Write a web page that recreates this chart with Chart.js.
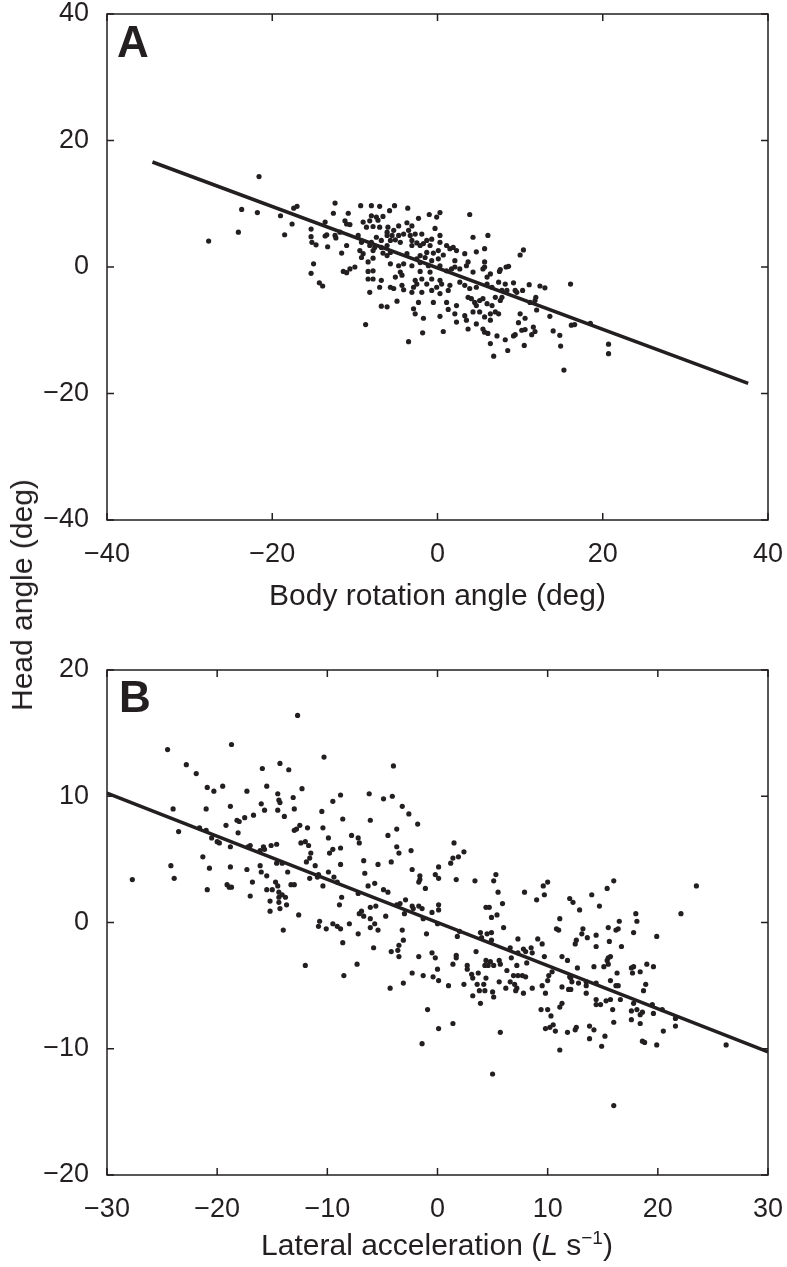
<!DOCTYPE html>
<html>
<head>
<meta charset="utf-8">
<script src="https://cdn.jsdelivr.net/npm/chart.js@4.4.1/dist/chart.umd.min.js"></script>
<style>
  body { margin: 0; background: #fff; }
  #wrap { position: relative; width: 787px; height: 1267px; font-family: "Liberation Sans", Arial, sans-serif; color: #231f20; }
  canvas { position: absolute; left: 0; }
  #cA { top: 0; }
  #cB { top: 620px; }
  .ytitle { position: absolute; left: 22px; top: 595px; font-size: 30px; white-space: nowrap;
            transform: translate(-50%, -50%) rotate(-90deg); }
  .xtitleB { position: absolute; left: 437px; top: 1245px; font-size: 30px; white-space: nowrap;
             transform: translate(-50%, -50%); }
  .xtitleB sup { font-size: 19px; vertical-align: 11px; line-height: 0; }
</style>
</head>
<body>
<div id="wrap">
  <canvas id="cA" width="787" height="620"></canvas>
  <canvas id="cB" width="787" height="647"></canvas>
  <div class="ytitle">Head angle (deg)</div>
  <div class="xtitleB">Lateral acceleration (<i>L</i> s<sup>−1</sup>)</div>
</div>
<script>
// ---- panel A: body rotation vs head angle ----
const aXTicks = [-40, -20, 0, 20, 40];
const aYTicks = [-40, -20, 0, 20, 40];
const aFitX = [-34.5, 37.6];
const aFitY = [16.6, -18.4];
const aX = [
  -21.6, -23.7, -21.8, -24.1, -27.7, -19.0, -17.4, -17.0, -17.6, -18.5, -15.3, -15.3, -15.2, -14.7, -15.0, -15.3, -14.3, -13.9,
  -13.6, -13.6, -13.4, -13.3, -12.4, -12.6, -12.4, -12.3, -11.6, -11.4, -11.2, -11.8,
  -9.3, -8.0, -7.0, -5.2, -3.6, -5.8, -10.8, -8.0, -7.4, -6.6, -1.0, -0.1, 0.3, 3.9, -2.3, -9.0, -8.2, -7.2,
  -11.0, -10.6, -8.6, -7.8, -7.0, -6.0, -4.7, -3.7, -3.1, -0.3, -6.1, -5.3, -3.5, -1.9, 0.3, -6.1, -5.5, -4.7, -4.1, -3.3, -2.7,
  -9.6, -9.2, -8.0, -7.4, -6.8, -5.7, -5.1, -4.5, -3.1, -2.5, -1.3, -0.7, 0.3, 1.1, 1.9, 4.3, 6.1, -11.0, -8.2, -7.6, -6.8, -6.1, -3.1, -2.1, -1.7, -0.9,
  -9.4, -9.0, -7.8, -6.6, -5.7, -3.7, -2.1, -1.3, -0.5, 0.1, 0.7, 1.5, 2.3, 3.3, 4.7, 5.7, -9.2, -7.8, -6.1, -2.5, -1.5, -0.7, 0.1, 2.1, 3.7,
  -10.6, -10.0, -8.4, -5.7, -4.7, -4.1, -3.1, -2.1, -1.1, 0.3, 1.1, 1.7, 2.1, 2.7, 3.5, 4.3, 5.5, -11.0, -8.4, -7.8, -4.5, -2.1, -0.9,
  -8.4, -7.8, -6.8, -5.1, -4.3, -2.7, -1.9, -0.7, 0.3, -5.7, -5.3, -4.3, -4.1, -2.9, -2.5, -1.3, -0.1, 0.5, 1.5, 2.7, 3.3, 3.9, 4.7, 6.0, -7.0, -8.2,
  -3.1, -1.9, -0.7, 0.3, 1.3, 3.7, 4.1, 4.5, 5.1, 5.5, -4.9, -6.8, -6.1, -2.3, -0.5, 1.1, 2.3, 4.7, 6.0,
  -2.9, -2.7, -1.7, 0.3, 1.3, 2.1, 3.3, 4.3, 5.1, 5.7, 3.5, 2.3, 4.7, 3.7, 5.5,
  -8.7, -1.8, 0.7, -3.5, 6.1, 6.4,
  5.7, 5.7, 6.4, 6.0, 10.4, 10.0, 7.5, 7.6, 8.3, 8.6, 7.4, 8.2, 9.2, 6.6, 7.8, 8.4, 9.4, 9.6, 10.3, 11.1, 12.4, 13.0, 16.1,
  7.0, 7.6, 7.8, 11.2, 11.8, 11.9, 12.0, 6.6, 7.0, 7.4, 6.4, 6.4, 10.0, 10.6, 9.8, 13.6, 10.2, 10.6, 11.6, 11.8, 11.4, 14.0, 14.8,
  16.2, 16.6, 18.5, 5.7, 7.2, 8.2, 9.2, 9.4, 8.5, 6.8, 10.5, 14.9, 20.7, 20.7, 15.3
];
const aY = [
  14.3, 9.1, 8.6, 5.5, 4.1, 8.1, 9.3, 9.6, 6.8, 5.1, 6.0, 4.8, 3.9, 3.5, 0.5, -1.0, -2.5, -3.0,
  7.1, 4.9, 5.1, 3.2, 10.1, 8.5, 5.0, 4.6, 2.2, -0.7, 7.3, 5.5,
  9.7, 9.7, 9.6, 9.7, 9.3, 8.9, 8.5, 8.1, 7.9, 8.0, 8.3, 7.9, 8.6, 8.3, 7.7, 7.1, 7.3, 7.4,
  6.8, 6.7, 6.3, 6.4, 6.3, 6.3, 6.5, 7.0, 6.5, 6.1, 5.5, 5.8, 5.8, 5.2, 5.0, 5.0, 5.0, 5.0, 5.2, 5.0, 5.2,
  5.0, 3.9, 3.9, 4.7, 4.2, 4.2, 4.3, 3.9, 4.2, 3.8, 4.2, 4.4, 3.9, 3.4, 3.1, 4.7, 5.0, 3.4, 3.4, 3.1, 3.1, 3.4, 3.4, 3.4, 3.7, 3.4,
  2.6, 2.1, 2.6, 2.2, 2.3, 2.1, 1.8, 2.3, 2.2, 2.6, 1.9, 2.9, 2.6, 2.1, 2.4, 2.9, 1.5, 1.4, 1.8, 1.3, 1.5, 1.0, 1.3, 1.0, 0.8,
  -0.3, 0.0, 0.8, 0.5, 0.2, 0.5, 0.2, 0.7, 0.2, 0.2, -0.6, -0.3, 0.0, -0.3, 0.2, -0.8, -0.3, -0.9, -0.7, -0.6, -0.8, -0.7, -0.8,
  -1.9, -1.9, -2.1, -1.6, -1.3, -2.1, -1.9, -1.9, -2.1, -3.2, -3.4, -2.9, -3.6, -3.2, -2.7, -2.7, -3.2, -2.7, -2.9, -2.4, -2.9, -3.4, -3.2, -2.7, -3.2, -4.0,
  -4.0, -4.0, -3.7, -4.2, -3.7, -4.8, -5.0, -5.6, -5.3, -5.0, -5.4, -6.2, -6.3, -5.6, -5.6, -5.6, -6.1, -6.1, -5.8,
  -6.6, -7.4, -8.1, -7.8, -6.7, -7.4, -7.7, -7.1, -7.1, -7.9, -8.4, -8.7, -9.0, -9.8, -9.8,
  -9.1, -10.4, -10.2, -11.8, -10.5, -12.1,
  0.8, 0.0, -1.1, -1.6, 2.7, 1.9, -0.7, -0.4, 0.0, 0.1, -2.4, -2.7, -2.5, -3.2, -3.7, -3.7, -3.7, -4.0, -3.7, -2.8, -3.0, -3.3, -2.7,
  -4.8, -5.3, -4.8, -5.6, -5.3, -4.8, -6.8, -6.1, -7.1, -7.4, -7.4, -8.4, -7.4, -8.1, -8.8, -7.8, -10.0, -9.9, -9.5, -10.2, -10.7, -10.1, -10.8,
  -9.2, -9.1, -8.9, -10.3, -10.9, -11.5, -10.9, -10.7, -13.2, -14.1, -12.4, -12.5, -12.2, -13.7, -16.3
];

// ---- panel B: lateral acceleration vs head angle ----
const bXTicks = [-30, -20, -10, 0, 10, 20, 30];
const bYTicks = [-20, -10, 0, 10, 20];
const bFitX = [-30, 30];
const bFitY = [10.25, -10.25];
const bX = [
  -24.5, -18.7, -22.8, -21.9, -20.9, -20.3, -19.5, -17.3, -15.9, -15.5, -24.0, -21.0, -18.8, -16.0, -15.7, -18.2, -18.0, -17.5, -16.7, -19.2,
  -23.5, -21.6, -21.0, -18.1, -20.5, -20.0, -19.8, -18.8, -17.2, -17.0, -16.1, -15.8, -15.7, -21.3, -24.2, -20.7, -18.8, -17.3, -16.1, -16.0,
  -15.5, -27.7, -23.9, -16.8, -20.9, -19.1, -18.9, -18.7, -17.0, -15.5,
  -12.7, -10.3, -14.3, -13.5, -4.0, -12.3, -14.5, -13.1, -14.4, -14.3, -8.8, -9.5, -6.2, -4.9, -4.1, -3.2, -2.6, -14.5, -13.0, -13.9,
  -10.5, -8.6, -6.1, -12.5, -12.8, -13.0, -11.8, -10.4, -3.7, -9.9, -7.8, -7.2, -7.1, -4.5, -15.1, -14.6, -12.4, -12.0, -11.7, -9.8,
  -9.5, -8.8, -3.7, -3.5, -2.4, -11.5, -11.6, -11.9, -14.6, -14.1, -11.1, -8.8, -6.7, -5.4, -4.2, -2.3, -13.6, -9.9, -10.8, -10.9,
  -11.6, -9.4, -9.1, -6.6, -10.4, -13.3, -13.0, -14.7, -14.5, -15.0, -6.3, -5.7, -4.9, -4.5, -2.9, -8.7, -14.4, -14.1, -7.2,
  -14.4, -13.8, -14.4, -15.2, -14.3, -13.7, -15.2, -12.6, -14.0, -8.9, -10.7, -10.8, -10.1, -9.5, -9.1, -8.8, -8.0, -6.9, -6.7, -7.1,
  -6.1, -5.6, -6.1, -5.7, -6.1, -5.4, -4.7, -3.7, -3.4, -2.3, -3.0, -7.2, -3.2, -3.1, -3.5, -3.6, -4.2, -3.5, -8.6, -5.8, -12.0, -7.3,
  -8.5, -2.3, -3.1, -4.3,
  -1.8, 1.5, 1.4, 1.9, 2.4, 1.2, 0.1, -1.6, -1.6, -1.7, -0.2, 0.1, -1.1, 1.7, 3.4, 5.3, 5.1, 5.5, 7.9, 10.0, 9.6, 9.7, 9.0,
  -2.2, -1.7, -1.4, -1.3, -0.5, 0.1, 0.1, 0.0, -1.0, 4.4, 4.7, 4.9, 5.4, 5.9, 6.0, 2.0, 1.8, 3.9, 4.0, 4.5, 4.9, 4.9, 7.3, 6.6,
  7.3, 7.8, 8.0, 8.5, 8.6, 9.1, 9.5, 9.7, -1.7, -0.5, -0.2, 1.7, 1.7, 3.5, 1.4, 2.7, 2.7, 4.4, 4.8, 5.1, 4.6, 4.3, 5.6, 5.7, 6.7,
  7.2, 8.1, 0.0, -1.3, -0.4, 0.1, 3.1, 3.2, 3.7, 4.4, 6.3, 6.9, 7.3, 7.7, 8.0, 6.6, 7.0, 7.2, 5.6, 1.0, 2.4, 3.6, 4.2, 6.2, 7.1,
  7.8, 8.6, 9.5, 10.0, 10.1, 10.4, 9.8, 3.8, 4.3, 5.0, 5.1, 3.2, 3.9, -0.9, 9.4, 10.0, 10.3, 11.1, 1.4, 0.1, 9.8, 10.2, 10.5, 10.7,
  5.7, -1.4, 5.0,
  16.0, 15.4, 14.0, 12.0, 23.5,
  12.3, 14.7, 12.9, 22.1, 11.1, 10.8, 11.0, 18.0, 18.1, 16.5, 16.2, 16.4, 15.5, 17.8, 19.9, 13.2, 13.1, 13.6, 14.4, 12.6, 12.5, 14.4,
  15.6, 16.7, 11.3, 11.8, 15.5, 15.4, 15.7, 15.5, 12.7, 14.2, 15.1, 17.6, 17.8, 17.7, 18.4, 19.0, 19.6, 16.3, 12.0, 12.2, 12.1, 12.8,
  13.5, 13.5, 14.4, 15.7, 16.2, 16.4, 18.9, 18.7, 11.3, 11.9, 12.1, 13.5, 16.6, 14.4, 14.4, 14.8, 15.3, 15.7, 17.8, 18.1, 19.5, 20.4,
  11.3, 15.9, 17.6, 18.6, 18.4, 19.6, 21.6, 21.6, 17.6, 16.0, 18.4, 20.5, 13.8, 14.2, 13.8, 12.6, 12.5, 11.8, 15.2, 18.6, 18.8, 19.9,
  14.9, 11.1, 16.0, 26.2
];
const bY = [
  13.7, 14.1, 12.5, 11.8, 10.7, 10.4, 10.8, 10.4, 12.2, 10.8, 9.0, 9.0, 9.2, 9.4, 8.9, 8.1, 8.0, 8.3, 8.5, 7.7,
  7.2, 7.5, 7.3, 7.1, 6.7, 6.4, 6.3, 6.0, 6.0, 6.1, 5.7, 6.0, 5.8, 5.2, 4.5, 4.3, 4.4, 4.2, 4.5, 4.0,
  3.7, 3.4, 3.5, 3.2, 2.6, 3.0, 2.8, 2.8, 2.1, 2.6,
  16.4, 13.1, 12.6, 12.1, 12.4, 10.6, 10.2, 9.9, 9.7, 9.5, 10.1, 9.6, 10.2, 9.8, 10.0, 9.2, 8.6, 8.9, 9.0, 8.4,
  8.8, 8.2, 8.1, 7.7, 7.4, 7.3, 7.5, 7.5, 7.4, 6.7, 6.9, 6.7, 6.3, 6.9, 6.1, 6.2, 6.3, 6.4, 6.1, 5.5,
  5.8, 5.9, 6.0, 5.5, 5.7, 5.5, 5.1, 4.8, 4.7, 4.7, 4.5, 4.6, 4.9, 4.6, 4.8, 4.2, 4.0, 4.0, 3.8, 3.6,
  3.5, 3.6, 3.2, 3.9, 2.9, 3.0, 3.0, 3.2, 2.9, 2.6, 2.9, 3.1, 2.6, 2.4, 1.8, 2.0, 2.4, 2.2, 2.3,
  2.0, 2.0, 1.6, 1.7, 1.1, 1.4, 0.9, 0.6, -0.6, 1.4, 0.1, -0.3, -0.5, -0.1, -0.3, -0.5, -0.1, 0.9, 0.5, 0.7,
  1.2, 1.3, 0.3, -0.1, -0.4, -0.6, 0.5, 1.4, 1.5, 1.3, 0.7, -0.9, -0.6, -1.4, -1.8, -2.2, -2.3, -2.7, -1.6, -2.0, -3.4, -3.3,
  -4.2, -4.0, -4.8, -5.2,
  7.8, 6.3, 5.1, 5.2, 5.6, 4.7, 4.4, 3.7, 3.4, 3.2, 3.8, 3.5, 2.7, 3.4, 3.3, 3.8, 3.3, 2.4, 2.4, 3.2, 2.9, 2.2, 1.8,
  1.1, 1.3, 1.1, 0.3, 0.8, 1.4, 1.0, -0.1, -0.9, 1.2, 1.2, 0.4, 0.6, 1.5, -0.4, -0.7, -1.1, -0.8, -1.2, -0.9, -0.8, -1.4, -1.3, -2.0,
  -2.4, -2.1, -2.3, -2.0, -2.4, -1.3, -1.7, -2.7, -2.7, -2.4, -2.8, -2.6, -2.8, -2.3, -3.3, -3.4, -3.7, -3.0, -3.1, -3.4, -3.4, -3.4, -3.0, -3.3, -2.8,
  -3.4, -3.2, -3.7, -4.2, -4.3, -4.6, -4.1, -4.4, -4.0, -4.4, -3.8, -4.2, -4.2, -4.2, -4.3, -4.7, -4.9, -5.2, -4.7, -5.0, -4.9, -4.9, -4.9, -5.2, -5.4,
  -5.6, -5.2, -5.0, -4.6, -4.2, -3.9, -5.6, -5.4, -5.4, -5.5, -5.9, -5.8, -6.4, -6.9, -6.9, -6.9, -7.4, -6.7, -8.0, -8.4, -8.4, -8.3, -8.1, -8.6,
  -8.7, -9.6, -12.0,
  3.3, 2.7, 2.2, 1.9, 2.9,
  1.6, 1.3, 1.0, 0.7, 0.3, -0.5, -0.6, 0.7, 0.1, 0.1, -0.6, -0.5, -0.4, -0.8, -1.1, -0.5, -0.9, -1.2, -1.0, -1.4, -1.7, -1.9,
  -1.5, -1.9, -2.7, -3.0, -2.8, -3.0, -2.7, -3.3, -3.6, -3.5, -3.5, -3.6, -3.5, -4.0, -3.9, -3.3, -3.5, -4.0, -4.3, -4.7, -4.4, -4.8,
  -4.7, -5.0, -4.8, -4.6, -5.0, -5.0, -4.9, -5.4, -5.1, -5.3, -5.3, -5.6, -6.1, -6.1, -6.5, -6.5, -6.2, -6.1, -6.4, -6.9, -6.5, -6.9,
  -6.4, -6.9, -7.0, -7.1, -7.3, -7.2, -7.6, -8.2, -7.7, -7.9, -8.0, -8.6, -8.2, -8.5, -9.2, -8.3, -8.5, -8.7, -9.0, -9.4, -9.5, -9.7,
  -9.8, -10.1, -14.5, -9.7
];

const ink = "#231f20";
const family = "'Liberation Sans', Arial, sans-serif";

function pairs(xs, ys) {
  return xs.map((x, i) => ({ x: x, y: ys[i] }));
}

function minus(v) {
  return v < 0 ? "\u2212" + Math.abs(v) : String(v);
}

// box round the plot with short ticks pointing inward, plus the panel letter
const frame = {
  id: "frame",
  afterDatasetsDraw(chart, args, opts) {
    const { ctx, chartArea: a, scales: { x, y } } = chart;
    ctx.save();
    ctx.strokeStyle = ink;
    ctx.lineWidth = 1.5;
    ctx.strokeRect(a.left, a.top, a.right - a.left, a.bottom - a.top);
    ctx.beginPath();
    x.ticks.forEach(t => {
      const p = x.getPixelForValue(t.value);
      ctx.moveTo(p, a.bottom); ctx.lineTo(p, a.bottom - 7);
      ctx.moveTo(p, a.top); ctx.lineTo(p, a.top + 7);
    });
    y.ticks.forEach(t => {
      const p = y.getPixelForValue(t.value);
      ctx.moveTo(a.left, p); ctx.lineTo(a.left + 7, p);
      ctx.moveTo(a.right, p); ctx.lineTo(a.right - 7, p);
    });
    ctx.stroke();
    ctx.fillStyle = ink;
    ctx.font = "bold 44px " + family;
    ctx.textBaseline = "alphabetic";
    ctx.fillText(opts.letter, a.left + opts.dx, a.top + opts.dy);
    ctx.restore();
  }
};

function makeChart(id, cfg) {
  return new Chart(document.getElementById(id), {
    type: "scatter",
    data: {
      datasets: [
        {
          data: pairs(cfg.fitX, cfg.fitY),
          showLine: true,
          borderColor: ink,
          borderWidth: 3.5,
          pointRadius: 0
        },
        {
          data: pairs(cfg.xs, cfg.ys),
          pointRadius: 2.6,
          pointBackgroundColor: ink,
          pointBorderWidth: 0,
          showLine: false
        }
      ]
    },
    options: {
      responsive: false,
      animation: false,
      layout: { padding: { top: cfg.padTop, right: 19, left: 0, bottom: 0 } },
      plugins: {
        legend: { display: false },
        tooltip: { enabled: false },
        frame: { letter: cfg.letter, dx: cfg.letterDx, dy: cfg.letterDy }
      },
      scales: {
        x: {
          type: "linear",
          min: cfg.xTicks[0],
          max: cfg.xTicks[cfg.xTicks.length - 1],
          grid: { display: false },
          border: { display: false },
          afterBuildTicks: s => { s.ticks = cfg.xTicks.map(v => ({ value: v })); },
          afterFit: s => {
            s.height = cfg.xAxisHeight;
            s.paddingLeft = 0;
            s.paddingRight = 0;
          },
          ticks: {
            color: ink,
            font: { family: family, size: 27, lineHeight: 1 },
            padding: 13,
            maxRotation: 0,
            autoSkip: false,
            callback: v => minus(v)
          },
          title: {
            display: !!cfg.xTitle,
            text: cfg.xTitle || "",
            color: ink,
            font: { family: family, size: 30, lineHeight: 1.2 },
            padding: { top: 0, bottom: 5 }
          }
        },
        y: {
          type: "linear",
          min: cfg.yTicks[0],
          max: cfg.yTicks[cfg.yTicks.length - 1],
          grid: { display: false },
          border: { display: false },
          afterBuildTicks: s => { s.ticks = cfg.yTicks.map(v => ({ value: v })); },
          afterFit: s => {
            s.width = 107;
            s.paddingTop = 0;
            s.paddingBottom = 0;
          },
          ticks: {
            color: ink,
            font: { family: family, size: 27, lineHeight: 1 },
            padding: 10,
            autoSkip: false,
            callback: v => minus(v)
          }
        }
      }
    },
    plugins: [frame]
  });
}

makeChart("cA", {
  xs: aX, ys: aY, fitX: aFitX, fitY: aFitY,
  xTicks: aXTicks, yTicks: aYTicks,
  padTop: 14, xAxisHeight: 100,
  xTitle: "Body rotation angle (deg)",
  letter: "A", letterDx: 10, letterDy: 43
});

makeChart("cB", {
  xs: bX, ys: bY, fitX: bFitX, fitY: bFitY,
  xTicks: bXTicks, yTicks: bYTicks,
  padTop: 50, xAxisHeight: 92,
  xTitle: null,
  letter: "B", letterDx: 12, letterDy: 42
});
</script>
</body>
</html>
